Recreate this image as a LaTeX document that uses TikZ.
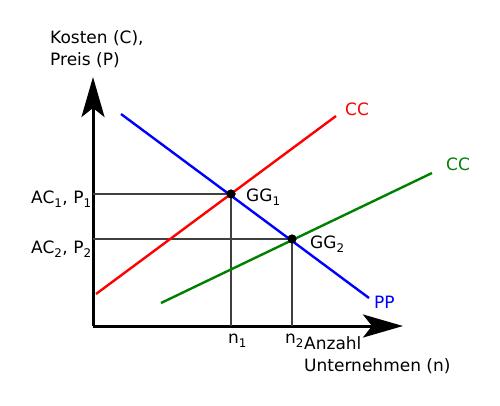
\documentclass[tikz,border=0pt]{standalone}
\usepackage{fontspec}
\setmainfont{DejaVu Sans}
\usetikzlibrary{arrows.meta}
\tikzstyle{axis} = [line width=3pt, -{Stealth[length=40pt, width=23pt, inset=9pt]}]
\tikzstyle{guide} = [line width=1.1pt, black!75]
\tikzstyle{curve} = [line width=2.4pt]
\tikzstyle{gg} = [circle, fill=black, inner sep=0pt, minimum size=9pt]
\tikzstyle{lbl} = [inner sep=0pt, anchor=base west]
\newcommand{\idx}[1]{\raisebox{-1.5pt}{\textsubscript{#1}}}

\begin{document}
\begin{tikzpicture}[x=1pt, y=-1pt, font=\fontsize{17}{22}\selectfont]
        \useasboundingbox (0,0) rectangle (500,405);
        % axes
        \coordinate (ursprung) at (93,326);
        \coordinate (yende) at (93,77);
        \coordinate (xende) at (403,326);
        \draw[axis] (ursprung) -- (yende);
        \draw[axis] (ursprung) -- (xende);

        % gleichgewichte
        \node[gg] (gg1) at (231,194) {};
        \node[gg] (gg2) at (292,239) {};
        \coordinate (ac1) at (93,194);
        \coordinate (ac2) at (93,239);
        \coordinate (n1) at (231,326);
        \coordinate (n2) at (292,326);
        \draw[guide] (ac1) -- (gg1.center) -- (n1);
        \draw[guide] (ac2) -- (gg2.center) -- (n2);

        % kurven
        \coordinate (pp1) at (121,114);
        \coordinate (pp2) at (369,298);
        \coordinate (cca1) at (96,294);
        \coordinate (cca2) at (336,116);
        \coordinate (ccb1) at (161,303);
        \coordinate (ccb2) at (432,173);
        \draw[curve, red] (cca1) -- (cca2);
        \draw[curve, green!50!black] (ccb1) -- (ccb2);
        \draw[curve, blue] (pp1) -- (pp2);
        \node[gg] at (gg1) {};
        \node[gg] at (gg2) {};

        % beschriftung
        \node[lbl, align=left] (ylabel) at (50,65) {Kosten (C),\\Preis (P)};
        \node[lbl, align=left] (xlabel) at (304,371) {Anzahl\\Unternehmen (n)};
        \node[lbl] (lac1) at (31,203) {AC\idx{1}, P\idx{1}};
        \node[lbl] (lac2) at (31,253) {AC\idx{2}, P\idx{2}};
        \node[lbl] (ln1) at (228,343) {n\idx{1}};
        \node[lbl] (ln2) at (285,343) {n\idx{2}};
        \node[lbl] (lgg1) at (246,201) {GG\idx{1}};
        \node[lbl] (lgg2) at (310,248) {GG\idx{2}};
        \node[lbl, red] (lcca) at (345,115) {CC};
        \node[lbl, green!50!black] (lccb) at (446,170) {CC};
        \node[lbl, blue] (lpp) at (374,308) {PP};
\end{tikzpicture}
\end{document}
